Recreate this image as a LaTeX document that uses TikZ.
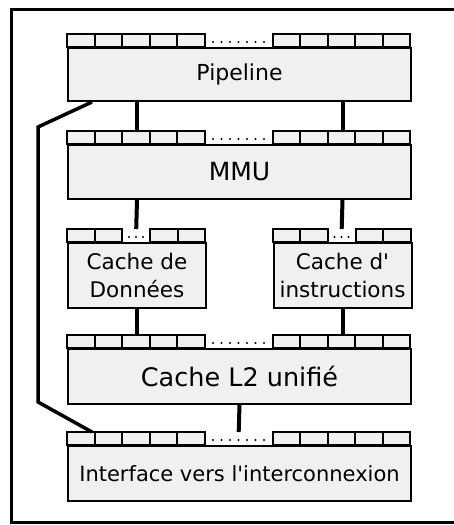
\documentclass[tikz,border=0pt]{standalone}
\usepackage{fontspec}
\setmainfont{DejaVu Sans}[Ligatures=TeXOff]
\usepackage{tikz}
\usetikzlibrary{calc}
\definecolor{fond}{RGB}{240,240,240}
\tikzset{
  bloc/.style={
    draw, line width=2pt, fill=fond, inner sep=0pt,
    anchor=north west, align=center
  },
  cellule/.style={draw, line width=2pt, fill=fond},
  lien/.style={line width=4pt},
  cadre/.style={line width=3pt},
}
% barrette de registres : nom, x gauche, y haut, cellules par cote, largeur du trou, nb de points
\newcommand{\barrette}[6]{%
  \node[inner sep=0pt, minimum width={2*#4*27.5pt+#5pt}, minimum height=13pt,
        anchor=north west] (#1) at (#2,#3) {};
  \foreach \i in {1,...,#4} {
    \draw[cellule] ({#2+(\i-1)*27.5},#3) rectangle ++(27.5,13);
    \draw[cellule] ({#2+#4*27.5+#5+(\i-1)*27.5},#3) rectangle ++(27.5,13);
  }
  \foreach \k in {1,...,#6}
    \fill ({#2+#4*27.5+#5*\k/(#6+1)},{#3+8}) circle (1.2);
}

\begin{document}
\begin{tikzpicture}[x=1pt, y=-1pt]
  \useasboundingbox (0,0) rectangle (454,525);
  \draw[cadre] (470,9) -- (11,9) -- (11,522) -- (470,522);

  % blocs
  \barrette{pipe-reg}{67}{34}{5}{68}{7}
  \node[bloc, minimum width=343pt, minimum height=53pt, font=\fontsize{22}{26}\selectfont]
    (pipe) at (67,47) {Pipeline};

  \barrette{mmu-reg}{67}{131}{5}{68}{7}
  \node[bloc, minimum width=343pt, minimum height=54pt, font=\fontsize{25}{30}\selectfont]
    (mmu) at (67,144) {MMU};

  \barrette{cd-reg}{67}{229}{2}{28}{3}
  \node[bloc, minimum width=138pt, minimum height=65pt, font=\fontsize{21.5}{28}\selectfont]
    (cd) at (67,242) {Cache de\\Données};

  \barrette{ci-reg}{272.5}{229}{2}{28}{3}
  \node[bloc, minimum width=138pt, minimum height=65pt, font=\fontsize{21.5}{28}\selectfont]
    (ci) at (272.5,242) {Cache d'\\instructions};

  \barrette{l2-reg}{67}{335}{5}{68}{7}
  \node[bloc, minimum width=343pt, minimum height=55pt, font=\fontsize{25.5}{30}\selectfont]
    (l2) at (67,348) {Cache L2 unifié};

  \barrette{if-reg}{67}{432}{5}{68}{7}
  \node[bloc, minimum width=343pt, minimum height=55pt, font=\fontsize{21}{26}\selectfont]
    (iface) at (67,445) {Interface vers l'interconnexion};

  % liaisons
  \draw[lien] (pipe.south -| cd) -- (mmu-reg.north -| cd);
  \draw[lien] (pipe.south -| ci) -- (mmu-reg.north -| ci);
  \draw[lien] (mmu.south -| cd) -- (cd-reg.north);
  \draw[lien] (mmu.south -| ci) -- (ci-reg.north);
  \draw[lien] (cd.south) -- (l2-reg.north -| cd);
  \draw[lien] (ci.south) -- (l2-reg.north -| ci);
  \draw[lien] (l2.south) -- (if-reg.north);

  % contournement
  \coordinate (c1) at (38,127);
  \coordinate (c2) at (38,402);
  \draw[lien, line width=3.5pt] ([xshift=25pt]pipe.south west) -- (c1) -- (c2)
    -- ([xshift=25pt]if-reg.north west);
\end{tikzpicture}
\end{document}
